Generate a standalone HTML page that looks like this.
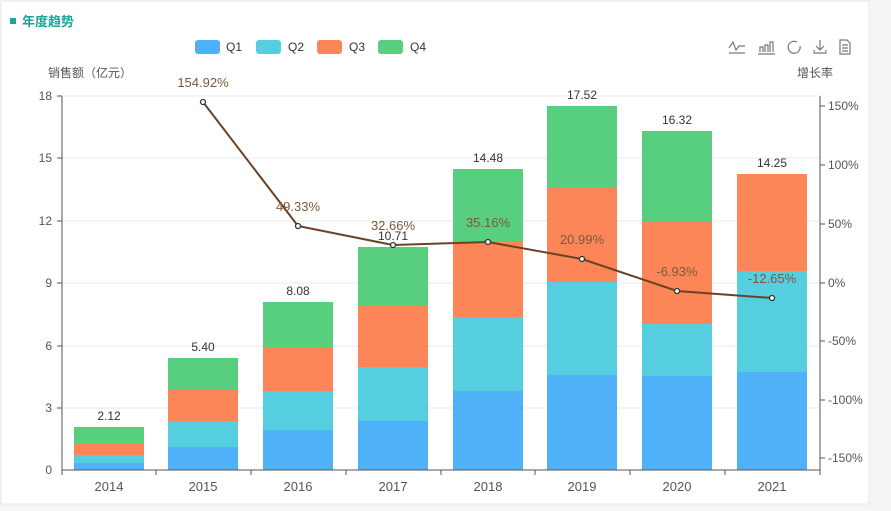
<!DOCTYPE html>
<html><head><meta charset="utf-8"><style>
body{margin:0;background:#f4f5f7;}
svg{display:block;font-family:"Liberation Sans","Noto Sans CJK SC",sans-serif;}
</style></head><body>
<svg width="891" height="511" viewBox="0 0 891 511">
<rect x="1" y="1" width="868" height="503" fill="#fff" stroke="#e8e8e8"/>
<rect x="10" y="18" width="6" height="6" fill="#1aa59a"/>
<text x="22" y="26" font-size="13" font-weight="bold" fill="#1aa59a">年度趋势</text>
<g font-size="12" fill="#333">
<rect x="195" y="40" width="25" height="14" rx="3" fill="#4fb1f8"/><text x="226" y="51">Q1</text>
<rect x="256" y="40" width="25" height="14" rx="3" fill="#55cfe0"/><text x="288" y="51">Q2</text>
<rect x="317" y="40" width="25" height="14" rx="3" fill="#fd8659"/><text x="349" y="51">Q3</text>
<rect x="378" y="40" width="25" height="14" rx="3" fill="#57cf7f"/><text x="410" y="51">Q4</text>
</g>
<g stroke="#777" fill="none" stroke-width="1.2">
<path d="M729 48l4-6 3 8 3-4h6M729 53h16"/>
<path d="M760 52v-5h3v5M765 52v-7h3v7M770 52v-10h3v10M758 54h17"/>
<path d="M797 42a6 6 0 1 0 3 4"/>
<path d="M820 40v10M816 46l4 4 4-4M814 50v3h12v-3"/>
<path d="M840 40h7l3 3v11h-10zM842 45h6M842 48h6M842 51h6"/>
</g>
<text x="48" y="77" font-size="12" fill="#555">销售额（亿元）</text>
<text x="797" y="77" font-size="12" fill="#555">增长率</text>
<g stroke="#eaeaea">
<line x1="62" y1="96" x2="820" y2="96"/><line x1="62" y1="158" x2="820" y2="158"/>
<line x1="62" y1="221" x2="820" y2="221"/><line x1="62" y1="283" x2="820" y2="283"/>
<line x1="62" y1="346" x2="820" y2="346"/><line x1="62" y1="408" x2="820" y2="408"/>
</g>
<g font-size="12" fill="#555" text-anchor="end">
<text x="52" y="100">18</text><text x="52" y="162">15</text><text x="52" y="225">12</text>
<text x="52" y="287">9</text><text x="52" y="350">6</text><text x="52" y="412">3</text><text x="52" y="474">0</text>
</g>
<g font-size="12" fill="#555">
<text x="828" y="110">150%</text><text x="828" y="169">100%</text><text x="828" y="228">50%</text>
<text x="828" y="287">0%</text><text x="828" y="345">-50%</text><text x="828" y="404">-100%</text><text x="828" y="462">-150%</text>
</g>
<g stroke="#555"><line x1="62" y1="96" x2="62" y2="470"/><line x1="820" y1="96" x2="820" y2="470"/>
<line x1="57" y1="96" x2="62" y2="96"/><line x1="57" y1="158" x2="62" y2="158"/><line x1="57" y1="221" x2="62" y2="221"/><line x1="57" y1="283" x2="62" y2="283"/><line x1="57" y1="346" x2="62" y2="346"/><line x1="57" y1="408" x2="62" y2="408"/>
<line x1="820" y1="106" x2="825" y2="106"/><line x1="820" y1="165" x2="825" y2="165"/><line x1="820" y1="224" x2="825" y2="224"/><line x1="820" y1="283" x2="825" y2="283"/><line x1="820" y1="341" x2="825" y2="341"/><line x1="820" y1="400" x2="825" y2="400"/><line x1="820" y1="458" x2="825" y2="458"/>
</g>
<g>
<rect x="74" y="463" width="70" height="7" fill="#4fb1f8"/><rect x="74" y="455" width="70" height="8" fill="#55cfe0"/><rect x="74" y="443" width="70" height="12" fill="#fd8659"/><rect x="74" y="427" width="70" height="16" fill="#57cf7f"/>
<rect x="168" y="447" width="70" height="23" fill="#4fb1f8"/><rect x="168" y="421" width="70" height="26" fill="#55cfe0"/><rect x="168" y="390" width="70" height="31" fill="#fd8659"/><rect x="168" y="358" width="70" height="32" fill="#57cf7f"/>
<rect x="263" y="430" width="70" height="40" fill="#4fb1f8"/><rect x="263" y="391" width="70" height="39" fill="#55cfe0"/><rect x="263" y="347" width="70" height="44" fill="#fd8659"/><rect x="263" y="302" width="70" height="45" fill="#57cf7f"/>
<rect x="358" y="421" width="70" height="49" fill="#4fb1f8"/><rect x="358" y="367" width="70" height="54" fill="#55cfe0"/><rect x="358" y="305" width="70" height="62" fill="#fd8659"/><rect x="358" y="247" width="70" height="58" fill="#57cf7f"/>
<rect x="453" y="391" width="70" height="79" fill="#4fb1f8"/><rect x="453" y="317" width="70" height="74" fill="#55cfe0"/><rect x="453" y="241" width="70" height="76" fill="#fd8659"/><rect x="453" y="169" width="70" height="72" fill="#57cf7f"/>
<rect x="547" y="375" width="70" height="95" fill="#4fb1f8"/><rect x="547" y="282" width="70" height="93" fill="#55cfe0"/><rect x="547" y="188" width="70" height="94" fill="#fd8659"/><rect x="547" y="106" width="70" height="82" fill="#57cf7f"/>
<rect x="642" y="376" width="70" height="94" fill="#4fb1f8"/><rect x="642" y="324" width="70" height="52" fill="#55cfe0"/><rect x="642" y="222" width="70" height="102" fill="#fd8659"/><rect x="642" y="131" width="70" height="91" fill="#57cf7f"/>
<rect x="737" y="372" width="70" height="98" fill="#4fb1f8"/><rect x="737" y="271" width="70" height="101" fill="#55cfe0"/><rect x="737" y="174" width="70" height="97" fill="#fd8659"/>
</g>
<line x1="62" y1="470" x2="820" y2="470" stroke="#555"/>
<g stroke="#555"><line x1="62" y1="470" x2="62" y2="475"/><line x1="156" y1="470" x2="156" y2="475"/><line x1="251" y1="470" x2="251" y2="475"/><line x1="346" y1="470" x2="346" y2="475"/><line x1="441" y1="470" x2="441" y2="475"/><line x1="535" y1="470" x2="535" y2="475"/><line x1="630" y1="470" x2="630" y2="475"/><line x1="725" y1="470" x2="725" y2="475"/><line x1="820" y1="470" x2="820" y2="475"/></g>
<g font-size="13" fill="#555" text-anchor="middle">
<text x="109" y="491">2014</text><text x="203" y="491">2015</text><text x="298" y="491">2016</text><text x="393" y="491">2017</text><text x="488" y="491">2018</text><text x="582" y="491">2019</text><text x="677" y="491">2020</text><text x="772" y="491">2021</text>
</g>
<g font-size="12" fill="#333" text-anchor="middle">
<text x="109" y="420">2.12</text><text x="203" y="351">5.40</text><text x="298" y="295">8.08</text><text x="393" y="240">10.71</text><text x="488" y="162">14.48</text><text x="582" y="99">17.52</text><text x="677" y="124">16.32</text><text x="772" y="167">14.25</text>
</g>
<polyline points="203,102 298,226 393,245 488,242 582,259 677,291 772,298" fill="none" stroke="#6b4226" stroke-width="2"/>
<g fill="#fff" stroke="#333" stroke-width="1.3">
<circle cx="203" cy="102" r="2.5"/><circle cx="298" cy="226" r="2.5"/><circle cx="393" cy="245" r="2.5"/><circle cx="488" cy="242" r="2.5"/><circle cx="582" cy="259" r="2.5"/><circle cx="677" cy="291" r="2.5"/><circle cx="772" cy="298" r="2.5"/>
</g>
<g font-size="13" fill="#7a5a3a" text-anchor="middle">
<text x="203" y="87">154.92%</text><text x="298" y="211">49.33%</text><text x="393" y="230">32.66%</text><text x="488" y="227">35.16%</text><text x="582" y="244">20.99%</text><text x="677" y="276">-6.93%</text><text x="772" y="283">-12.65%</text>
</g>
</svg>
</body></html>
